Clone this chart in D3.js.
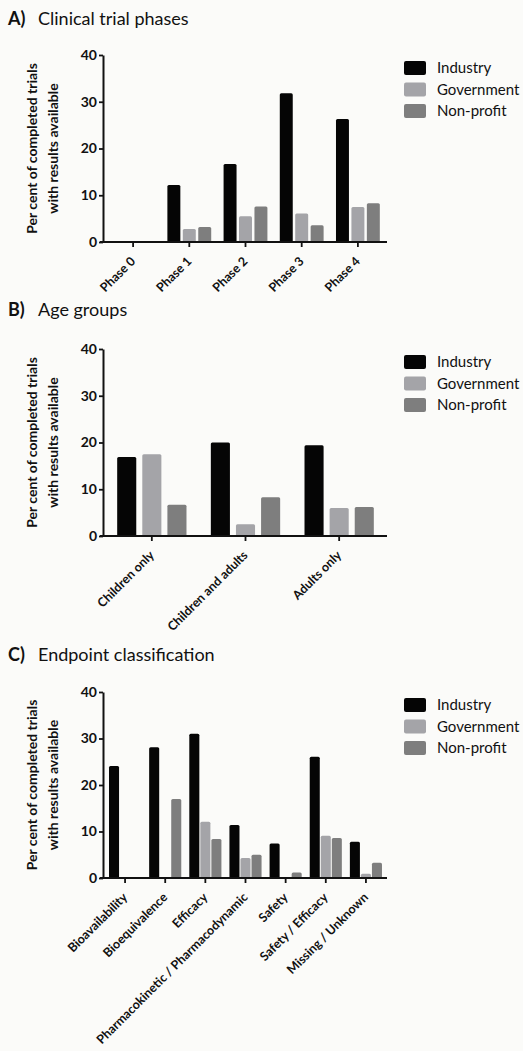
<!DOCTYPE html>
<html>
<head>
<meta charset="utf-8">
<script src="https://cdn.jsdelivr.net/npm/d3@7"></script>
<style>
  body { margin: 0; background: #fbfbf9; }
  svg { display: block; }
  text { font-family: Lato, "Open Sans", sans-serif; fill: #111; }
</style>
</head>
<body>
<svg id="chart" width="523" height="1051"></svg>
<script>
var series = ["Industry", "Government", "Non-profit"];
var colors = ["#050505", "#a4a4a8", "#7e7e7e"];
var yTicks = [0, 10, 20, 30, 40];

// A) clinical trial phases
var phases = ["Phase 0", "Phase 1", "Phase 2", "Phase 3", "Phase 4"];
var phaseIndustry = [0, 12.2, 16.7, 31.8, 26.3];
var phaseGovernment = [0, 2.8, 5.5, 6.1, 7.5];
var phaseNonprofit = [0, 3.2, 7.6, 3.6, 8.3];

// B) age groups
var ages = ["Children only", "Children and adults", "Adults only"];
var ageIndustry = [16.9, 20.0, 19.4];
var ageGovernment = [17.5, 2.5, 6.0];
var ageNonprofit = [6.7, 8.3, 6.2];

// C) endpoint classification
var endpoints = ["Bioavailability", "Bioequivalence", "Efficacy",
    "Pharmacokinetic / Pharmacodynamic", "Safety", "Safety / Efficacy", "Missing / Unknown"];
var endIndustry = [24.1, 28.1, 31.0, 11.4, 7.4, 26.1, 7.8];
var endGovernment = [0, 0, 12.1, 4.3, 0, 9.1, 0.9];
var endNonprofit = [0, 17.0, 8.4, 5.0, 1.2, 8.6, 3.3];

var svg = d3.select("#chart");

var panels = [
    {letter: "A)", title: "Clinical trial phases", titleY: 25, top: 55, bottom: 242,
     cats: phases, values: [phaseIndustry, phaseGovernment, phaseNonprofit], group: 0.78, inner: 0.16},
    {letter: "B)", title: "Age groups", titleY: 316, top: 349, bottom: 536,
     cats: ages, values: [ageIndustry, ageGovernment, ageNonprofit], group: 0.74, inner: 0.24},
    {letter: "C)", title: "Endpoint classification", titleY: 661, top: 692, bottom: 878,
     cats: endpoints, values: [endIndustry, endGovernment, endNonprofit], group: 0.8, inner: 0.09}
];

var axisX = 103;

panels.forEach(drawPanel);

function drawPanel(p) {
    var g = svg.append("g");

    // title
    var title = g.append("text")
        .attr("x", 8)
        .attr("y", p.titleY)
        .style("font-size", "18px");
    title.append("tspan").style("font-weight", "bold").text(p.letter);
    title.append("tspan").attr("x", 38).text(p.title);

    var y = d3.scaleLinear().domain([0, 40]).range([p.bottom, p.top]);
    var x0 = d3.scaleBand().domain(p.cats).range([105, 386]).padding(0);
    var groupW = x0.bandwidth() * p.group;
    var x1 = d3.scaleBand().domain(series).range([-groupW / 2, groupW / 2]).paddingInner(p.inner);

    // bars
    var rows = [];
    p.cats.forEach(function(c, i) {
        series.forEach(function(s, k) {
            rows.push({cat: c, series: s, k: k, value: p.values[k][i]});
        });
    });

    g.selectAll("rect.bar")
        .data(rows.filter(function(d) { return d.value > 0; }))
        .enter()
        .append("rect")
        .attr("class", "bar")
        .attr("x", function(d) { return x0(d.cat) + x0.bandwidth() / 2 + x1(d.series); })
        .attr("y", function(d) { return y(d.value); })
        .attr("width", x1.bandwidth())
        .attr("height", function(d) { return p.bottom - y(d.value); })
        .attr("rx", 1.5)
        .style("fill", function(d) { return colors[d.k]; });

    // y axis
    var yAxis = g.append("g")
        .attr("transform", "translate(" + axisX + ",0)")
        .call(d3.axisLeft(y).tickValues(yTicks).tickSize(4).tickSizeOuter(0).tickPadding(2));
    yAxis.select(".domain").attr("stroke", "#111").attr("stroke-width", 2);
    yAxis.selectAll(".tick line").attr("stroke", "#111").attr("stroke-width", 1.8);
    yAxis.selectAll("text")
        .style("font-family", "Lato, sans-serif")
        .style("font-size", "14px")
        .style("font-weight", "bold")
        .attr("fill", "#111");

    // x axis
    var xAxis = g.append("g")
        .attr("transform", "translate(0," + p.bottom + ")")
        .call(d3.axisBottom(x0).tickSize(5).tickSizeOuter(0));
    xAxis.select(".domain").remove();
    xAxis.append("line")
        .attr("x1", axisX - 3)
        .attr("x2", 387)
        .attr("stroke", "#111")
        .attr("stroke-width", 2);
    xAxis.selectAll(".tick line").attr("stroke", "#111").attr("stroke-width", 1.8);
    xAxis.selectAll(".tick text")
        .attr("y", 0)
        .attr("dy", 0)
        .attr("transform", "translate(3,20) rotate(-45)")
        .style("text-anchor", "end")
        .style("font-family", "Lato, sans-serif")
        .style("font-size", "12.5px")
        .style("font-weight", "bold")
        .attr("fill", "#111");

    // y label
    var cy = (p.top + p.bottom) / 2;
    var yl = g.append("g")
        .attr("transform", "translate(37," + cy + ") rotate(-90)");
    yl.append("text")
        .attr("text-anchor", "middle")
        .style("font-size", "14px")
        .style("font-weight", "bold")
        .text("Per cent of completed trials");
    yl.append("text")
        .attr("y", 21)
        .attr("text-anchor", "middle")
        .style("font-size", "14px")
        .style("font-weight", "bold")
        .text("with results available");

    // legend
    var legend = g.selectAll("g.legend")
        .data(series)
        .enter()
        .append("g")
        .attr("class", "legend")
        .attr("transform", function(d, i) {
            return "translate(404," + (p.top + 6 + i * 21.5) + ")";
        });
    legend.append("rect")
        .attr("width", 22)
        .attr("height", 14)
        .attr("rx", 2)
        .style("fill", function(d, i) { return colors[i]; });
    legend.append("text")
        .attr("x", 33)
        .attr("y", 12)
        .style("font-size", "15px")
        .text(function(d) { return d; });
}
</script>
</body>
</html>
